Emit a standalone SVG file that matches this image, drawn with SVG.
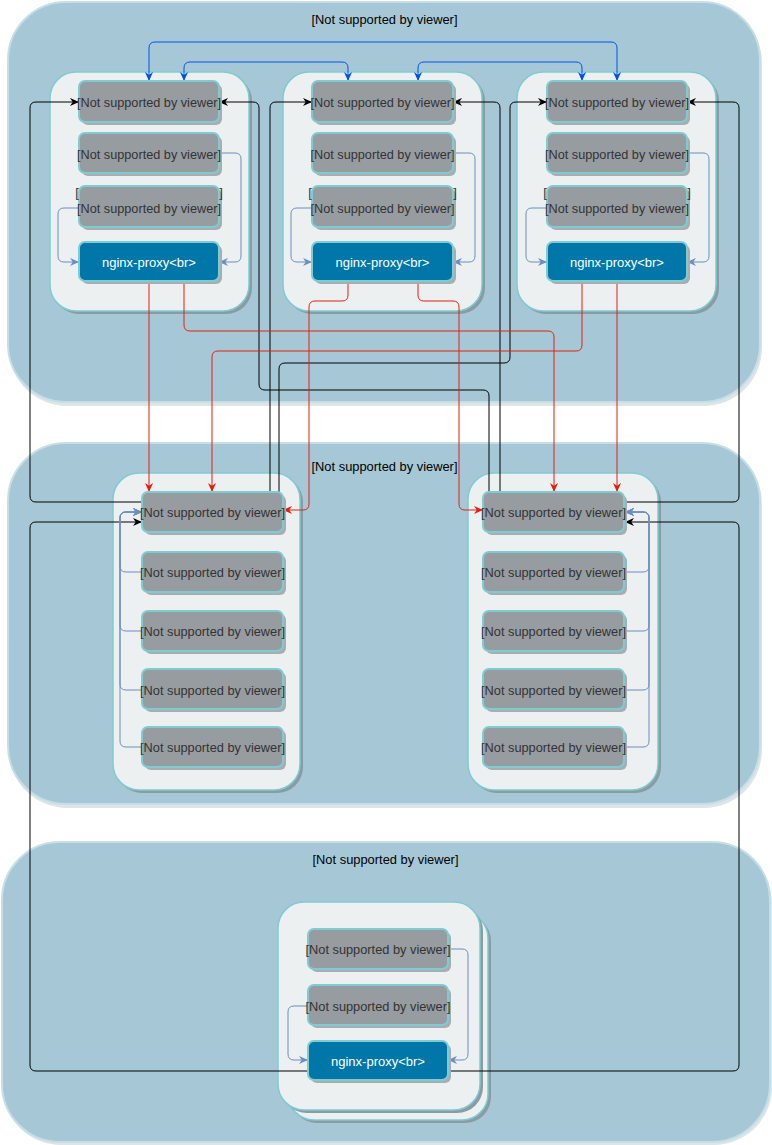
<svg xmlns="http://www.w3.org/2000/svg" width="772" height="1145" viewBox="0 0 772 1145">
<style>
.grp{fill:#a6c8d6;stroke:#c6dee6;stroke-width:2}
.gsh{fill:#dde5e8}
.clu{fill:#ecf0f1;stroke:#7ecbd2;stroke-width:1.5}
.csh{fill:#8a9ba1}
.nd{fill:#979ca1;stroke:#7ecbd2;stroke-width:2}
.ng{fill:#0077a8;stroke:#7ecbd2;stroke-width:2}
.nsh{fill:#a8adb0}
.t{font-family:"Liberation Sans",Arial,sans-serif;font-size:13px;fill:#333;text-anchor:middle}
.tw{fill:#fff}
.gl{font-family:"Liberation Sans",Arial,sans-serif;font-size:12px;fill:#000;text-anchor:middle}
.e{fill:none;stroke-width:1}
.k{stroke:#000;marker-end:url(#mk)}
.r{stroke:#e3200f;marker-end:url(#mr)}
.b{stroke:#0050ef;marker-start:url(#mb);marker-end:url(#mb)}
.g{stroke:#6c8ebf;marker-end:url(#mg)}
</style>
<defs>
<marker id="mk" viewBox="0 0 10 10" refX="10" refY="5" markerWidth="9" markerHeight="9" markerUnits="userSpaceOnUse" orient="auto-start-reverse"><path d="M0,0.5 L10,5 L0,9.5 L3,5z" fill="#000"/></marker>
<marker id="mr" viewBox="0 0 10 10" refX="10" refY="5" markerWidth="9" markerHeight="9" markerUnits="userSpaceOnUse" orient="auto-start-reverse"><path d="M0,0.5 L10,5 L0,9.5 L3,5z" fill="#e3200f"/></marker>
<marker id="mb" viewBox="0 0 10 10" refX="10" refY="5" markerWidth="9" markerHeight="9" markerUnits="userSpaceOnUse" orient="auto-start-reverse"><path d="M0,0.5 L10,5 L0,9.5 L3,5z" fill="#0050ef"/></marker>
<marker id="mg" viewBox="0 0 10 10" refX="10" refY="5" markerWidth="9" markerHeight="9" markerUnits="userSpaceOnUse" orient="auto-start-reverse"><path d="M0,0.5 L10,5 L0,9.5 L3,5z" fill="#6c8ebf"/></marker>
</defs>
<rect width="772" height="1145" fill="#fff"/>

<g id="group-top">
<rect class="gsh" x="9" y="5" width="753" height="401" rx="58"/>
<rect class="grp" x="8" y="2" width="752" height="400" rx="58"/>
<text class="gl" x="384.5" y="24" textLength="146" lengthAdjust="spacingAndGlyphs">[Not supported by viewer]</text>
</g>
<g id="group-middle">
<rect class="gsh" x="9" y="446" width="753" height="362" rx="58"/>
<rect class="grp" x="8" y="443" width="752" height="361" rx="58"/>
<text class="gl" x="384.5" y="471" textLength="146" lengthAdjust="spacingAndGlyphs">[Not supported by viewer]</text>
</g>
<g id="group-bottom">
<rect class="gsh" x="3" y="845" width="769" height="300" rx="58"/>
<rect class="grp" x="2" y="842" width="768" height="300" rx="58"/>
<text class="gl" x="385.5" y="864" textLength="146" lengthAdjust="spacingAndGlyphs">[Not supported by viewer]</text>
</g>

<g id="cluster-tl"><rect class="csh" x="53" y="75" width="199" height="239" rx="26"/><rect class="clu" x="50" y="72" width="199" height="239" rx="26"/></g>
<g id="cluster-tm"><rect class="csh" x="286" y="75" width="199" height="239" rx="26"/><rect class="clu" x="283" y="72" width="199" height="239" rx="26"/></g>
<g id="cluster-tr"><rect class="csh" x="520" y="75" width="199" height="239" rx="26"/><rect class="clu" x="517" y="72" width="199" height="239" rx="26"/></g>
<g id="cluster-ml"><rect class="csh" x="116" y="476" width="187" height="317" rx="26"/><rect class="clu" x="113" y="473" width="187" height="317" rx="26"/></g>
<g id="cluster-mr"><rect class="csh" x="471" y="476" width="190" height="317" rx="26"/><rect class="clu" x="468" y="473" width="190" height="317" rx="26"/></g>
<g id="cluster-bottom">
<rect class="csh" x="291" y="915" width="200" height="208" rx="26"/>
<rect class="clu" x="288" y="912" width="200" height="208" rx="26"/>
<rect class="csh" x="281" y="905" width="202" height="208" rx="26"/>
<rect class="clu" x="278" y="902" width="202" height="208" rx="26"/>
</g>

<g id="connectors">
<path class="e b" d="M149,81 V48 Q149,42 155,42 H611 Q617,42 617,48 V81"/>
<path class="e b" d="M184,81 V68 Q184,62 190,62 H342 Q348,62 348,68 V81"/>
<path class="e b" d="M418,81 V68 Q418,62 424,62 H576 Q582,62 582,68 V81"/>

<path class="e k" d="M142,502 H36 Q30,502 30,496 V108 Q30,102 36,102 H79"/>
<path class="e k" d="M489,492 V396 Q489,390 483,390 H265 Q259,390 259,384 V108 Q259,102 253,102 H219"/>
<path class="e k" d="M270,492 V108 Q270,102 276,102 H312"/>
<path class="e k" d="M279,492 V369 Q279,363 285,363 H504 Q510,363 510,357 V108 Q510,102 516,102 H547"/>
<path class="e k" d="M500,492 V108 Q500,102 494,102 H453"/>
<path class="e k" d="M625,502 H733 Q739,502 739,496 V108 Q739,102 733,102 H687"/>
<path class="e k" d="M308,1071 H36 Q30,1071 30,1065 V528 Q30,522 36,522 H142"/>
<path class="e k" d="M448,1071 H733 Q739,1071 739,1065 V528 Q739,522 733,522 H625"/>

<path class="e r" d="M149,281 V492"/>
<path class="e r" d="M184,281 V325 Q184,331 190,331 H548 Q554,331 554,337 V492"/>
<path class="e r" d="M582,281 V345 Q582,351 576,351 H218 Q212,351 212,357 V492"/>
<path class="e r" d="M617,281 V492"/>
<path class="e r" d="M348,281 V295 Q348,301 342,301 H315 Q309,301 309,307 V504 Q309,510 303,510 H283"/>
<path class="e r" d="M418,281 V295 Q418,301 424,301 H453 Q459,301 459,307 V504 Q459,510 465,510 H483"/>

<path class="e g" d="M219,153 H235 Q241,153 241,159 V256 Q241,262 235,262 H219"/>
<path class="e g" d="M79,208 H64 Q58,208 58,214 V256 Q58,262 64,262 H79"/>
<path class="e g" d="M453,153 H469 Q475,153 475,159 V256 Q475,262 469,262 H453"/>
<path class="e g" d="M312,208 H297 Q291,208 291,214 V256 Q291,262 297,262 H312"/>
<path class="e g" d="M687,153 H703 Q709,153 709,159 V256 Q709,262 703,262 H687"/>
<path class="e g" d="M547,208 H532 Q526,208 526,214 V256 Q526,262 532,262 H547"/>

<path class="e g" d="M142,572 H126 Q120,572 120,566 V518 Q120,512 126,512 H142"/>
<path class="e g" d="M142,631 H126 Q120,631 120,625 V518 Q120,512 126,512 H142"/>
<path class="e g" d="M142,690 H126 Q120,690 120,684 V518 Q120,512 126,512 H142"/>
<path class="e g" d="M142,747 H126 Q120,747 120,741 V518 Q120,512 126,512 H142"/>
<path class="e g" d="M624,572 H643 Q649,572 649,566 V518 Q649,512 643,512 H625"/>
<path class="e g" d="M624,631 H643 Q649,631 649,625 V518 Q649,512 643,512 H625"/>
<path class="e g" d="M624,690 H643 Q649,690 649,684 V518 Q649,512 643,512 H625"/>
<path class="e g" d="M624,747 H643 Q649,747 649,741 V518 Q649,512 643,512 H625"/>

<path class="e g" d="M448,949 H462 Q468,949 468,955 V1054 Q468,1060 462,1060 H448"/>
<path class="e g" d="M308,1006 H294 Q288,1006 288,1012 V1054 Q288,1060 294,1060 H308"/>
</g>

<g id="tl-n1"><rect class="nsh" x="82" y="84" width="140" height="41" rx="6"/><rect class="nd" x="79" y="81" width="140" height="41" rx="6"/><text class="t" x="149" y="106.5" textLength="144" lengthAdjust="spacingAndGlyphs">[Not supported by viewer]</text></g>
<g id="tl-n2"><rect class="nsh" x="82" y="136" width="140" height="40" rx="6"/><rect class="nd" x="79" y="133" width="140" height="40" rx="6"/><text class="t" x="149" y="158.5" textLength="144" lengthAdjust="spacingAndGlyphs">[Not supported by viewer]</text></g>
<g id="tl-n3"><rect class="nsh" x="82" y="189" width="140" height="41" rx="6"/><rect class="nd" x="79" y="186" width="140" height="41" rx="6"/><text class="t" x="77" y="197" text-anchor="start">[</text><text class="t" x="221" y="197" text-anchor="end">]</text><text class="t" x="149" y="212.5" textLength="144" lengthAdjust="spacingAndGlyphs">[Not supported by viewer]</text></g>
<g id="tl-nginx"><rect class="nsh" x="82" y="245" width="140" height="39" rx="6"/><rect class="ng" x="79" y="242" width="140" height="39" rx="6"/><text class="t tw" x="149" y="267">nginx-proxy&lt;br&gt;</text></g>

<g id="tm-n1"><rect class="nsh" x="315" y="84" width="141" height="41" rx="6"/><rect class="nd" x="312" y="81" width="141" height="41" rx="6"/><text class="t" x="382.5" y="106.5" textLength="144" lengthAdjust="spacingAndGlyphs">[Not supported by viewer]</text></g>
<g id="tm-n2"><rect class="nsh" x="315" y="136" width="141" height="40" rx="6"/><rect class="nd" x="312" y="133" width="141" height="40" rx="6"/><text class="t" x="382.5" y="158.5" textLength="144" lengthAdjust="spacingAndGlyphs">[Not supported by viewer]</text></g>
<g id="tm-n3"><rect class="nsh" x="315" y="189" width="141" height="41" rx="6"/><rect class="nd" x="312" y="186" width="141" height="41" rx="6"/><text class="t" x="310" y="197" text-anchor="start">[</text><text class="t" x="455" y="197" text-anchor="end">]</text><text class="t" x="382.5" y="212.5" textLength="144" lengthAdjust="spacingAndGlyphs">[Not supported by viewer]</text></g>
<g id="tm-nginx"><rect class="nsh" x="315" y="245" width="141" height="39" rx="6"/><rect class="ng" x="312" y="242" width="141" height="39" rx="6"/><text class="t tw" x="382.5" y="267">nginx-proxy&lt;br&gt;</text></g>

<g id="tr-n1"><rect class="nsh" x="550" y="84" width="140" height="41" rx="6"/><rect class="nd" x="547" y="81" width="140" height="41" rx="6"/><text class="t" x="617" y="106.5" textLength="144" lengthAdjust="spacingAndGlyphs">[Not supported by viewer]</text></g>
<g id="tr-n2"><rect class="nsh" x="550" y="136" width="140" height="40" rx="6"/><rect class="nd" x="547" y="133" width="140" height="40" rx="6"/><text class="t" x="617" y="158.5" textLength="144" lengthAdjust="spacingAndGlyphs">[Not supported by viewer]</text></g>
<g id="tr-n3"><rect class="nsh" x="550" y="189" width="140" height="41" rx="6"/><rect class="nd" x="547" y="186" width="140" height="41" rx="6"/><text class="t" x="545" y="197" text-anchor="start">[</text><text class="t" x="689" y="197" text-anchor="end">]</text><text class="t" x="617" y="212.5" textLength="144" lengthAdjust="spacingAndGlyphs">[Not supported by viewer]</text></g>
<g id="tr-nginx"><rect class="nsh" x="550" y="245" width="140" height="39" rx="6"/><rect class="ng" x="547" y="242" width="140" height="39" rx="6"/><text class="t tw" x="617" y="267">nginx-proxy&lt;br&gt;</text></g>

<g id="ml-n1"><rect class="nsh" x="145" y="495" width="141" height="40" rx="6"/><rect class="nd" x="142" y="492" width="141" height="40" rx="6"/><text class="t" x="212.5" y="516.5" textLength="145" lengthAdjust="spacingAndGlyphs">[Not supported by viewer]</text></g>
<g id="ml-n2"><rect class="nsh" x="145" y="555" width="141" height="40" rx="6"/><rect class="nd" x="142" y="552" width="141" height="40" rx="6"/><text class="t" x="212.5" y="576.5" textLength="145" lengthAdjust="spacingAndGlyphs">[Not supported by viewer]</text></g>
<g id="ml-n3"><rect class="nsh" x="145" y="614" width="141" height="40" rx="6"/><rect class="nd" x="142" y="611" width="141" height="40" rx="6"/><text class="t" x="212.5" y="635.5" textLength="145" lengthAdjust="spacingAndGlyphs">[Not supported by viewer]</text></g>
<g id="ml-n4"><rect class="nsh" x="145" y="672" width="141" height="40" rx="6"/><rect class="nd" x="142" y="669" width="141" height="40" rx="6"/><text class="t" x="212.5" y="694.5" textLength="145" lengthAdjust="spacingAndGlyphs">[Not supported by viewer]</text></g>
<g id="ml-n5"><rect class="nsh" x="145" y="730" width="141" height="40" rx="6"/><rect class="nd" x="142" y="727" width="141" height="40" rx="6"/><text class="t" x="212.5" y="751.5" textLength="145" lengthAdjust="spacingAndGlyphs">[Not supported by viewer]</text></g>

<g id="mr-n1"><rect class="nsh" x="486" y="495" width="141" height="40" rx="6"/><rect class="nd" x="483" y="492" width="141" height="40" rx="6"/><text class="t" x="553.5" y="516.5" textLength="145" lengthAdjust="spacingAndGlyphs">[Not supported by viewer]</text></g>
<g id="mr-n2"><rect class="nsh" x="486" y="555" width="141" height="40" rx="6"/><rect class="nd" x="483" y="552" width="141" height="40" rx="6"/><text class="t" x="553.5" y="576.5" textLength="145" lengthAdjust="spacingAndGlyphs">[Not supported by viewer]</text></g>
<g id="mr-n3"><rect class="nsh" x="486" y="614" width="141" height="40" rx="6"/><rect class="nd" x="483" y="611" width="141" height="40" rx="6"/><text class="t" x="553.5" y="635.5" textLength="145" lengthAdjust="spacingAndGlyphs">[Not supported by viewer]</text></g>
<g id="mr-n4"><rect class="nsh" x="486" y="672" width="141" height="40" rx="6"/><rect class="nd" x="483" y="669" width="141" height="40" rx="6"/><text class="t" x="553.5" y="694.5" textLength="145" lengthAdjust="spacingAndGlyphs">[Not supported by viewer]</text></g>
<g id="mr-n5"><rect class="nsh" x="486" y="730" width="141" height="40" rx="6"/><rect class="nd" x="483" y="727" width="141" height="40" rx="6"/><text class="t" x="553.5" y="751.5" textLength="145" lengthAdjust="spacingAndGlyphs">[Not supported by viewer]</text></g>

<g id="b-n1"><rect class="nsh" x="311" y="932" width="140" height="40" rx="6"/><rect class="nd" x="308" y="929" width="140" height="40" rx="6"/><text class="t" x="378" y="953.5" textLength="145" lengthAdjust="spacingAndGlyphs">[Not supported by viewer]</text></g>
<g id="b-n2"><rect class="nsh" x="311" y="988" width="140" height="40" rx="6"/><rect class="nd" x="308" y="985" width="140" height="40" rx="6"/><text class="t" x="378" y="1010.5" textLength="145" lengthAdjust="spacingAndGlyphs">[Not supported by viewer]</text></g>
<g id="b-nginx"><rect class="nsh" x="311" y="1044" width="140" height="39" rx="6"/><rect class="ng" x="308" y="1041" width="140" height="39" rx="6"/><text class="t tw" x="378" y="1065.5">nginx-proxy&lt;br&gt;</text></g>
</svg>
